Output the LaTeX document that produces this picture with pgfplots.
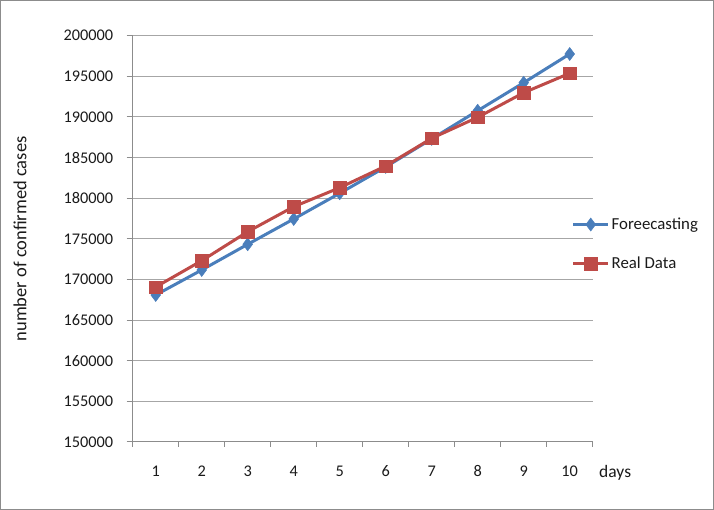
\documentclass[border=0pt]{standalone}
\usepackage{fontspec}
\setmainfont{Carlito}
\usepackage{pgfplots}
\pgfplotsset{compat=1.18}
\definecolor{fc}{HTML}{4A7EBB}
\definecolor{rd}{HTML}{BE4B48}
\definecolor{axc}{HTML}{8C8C8C}
\definecolor{grd}{HTML}{A6A6A6}
\definecolor{txt}{HTML}{1A1A1A}
\pgfplotsset{
  mylegend/.style={legend image code/.code={
    \draw[##1, mark=none] (0pt,0pt) -- (35pt,0pt);
    \draw[##1, line width=0.5pt] plot coordinates {(17.5pt,0pt)};
  }}
}
\begin{document}
\begin{tikzpicture}[x=1pt,y=1pt]
\draw[axc, line width=1.2pt] (0.6,0.6) rectangle (713.4,509.4);
\begin{axis}[
  at={(132.7pt,68pt)}, anchor=south west,
  scale only axis, width=460pt, height=406.3pt,
  xmin=0.5, xmax=10.5, ymin=150000, ymax=200000,
  xtick={1,...,10},
  minor xtick={0.5,1.5,...,10.5},
  ytick={150000,155000,...,200000},
  scaled y ticks=false,
  major x tick style={draw=none},
  axis x line*=bottom, axis y line*=left,
  axis line style={axc, line width=1pt},
  tick align=outside,
  major tick length=6pt, minor tick length=5pt,
  every tick/.style={axc, line width=1pt},
  ymajorgrids, grid style={grd, line width=1pt},
  /pgf/number format/assume math mode=true,
  /pgf/number format/1000 sep={},
  /pgf/number format/fixed,
  tick label style={font=\fontsize{16.3}{19}\selectfont, text=txt},
  yticklabel style={anchor=east, xshift=-10pt},
  xticklabel style={anchor=center, yshift=-23pt},
  xlabel={days},
  xlabel style={at={(rel axis cs:1,0)}, anchor=west, xshift=3pt, yshift=-31pt, font=\fontsize{17.5}{20}\selectfont, text=txt},
  ylabel={number of confirmed cases},
  ylabel style={at={(axis description cs:-0.245,0.5)}, anchor=center, font=\fontsize{18.5}{20}\selectfont, text=txt},
  legend style={at={(rel axis cs:0.954,0.487)}, anchor=west, draw=none, fill=none,
    font=\fontsize{16.8}{19}\selectfont, text=txt, row sep=22pt, inner sep=0pt,
    nodes={inner sep=2pt}},
  legend cell align=left,
  clip=false,
]
\addplot[fc, line width=3pt, mark=diamond*, mark size=6.5pt, mark options={line width=0.5pt, fill=fc}, mylegend]
coordinates {(1,168090) (2,171166) (3,174329) (4,177442) (5,180605) (6,183850) (7,187300) (8,190770) (9,194216) (10,197747)};
\addlegendentry{Foreecasting}
\addplot[rd, line width=3pt, mark=square*, mark size=6.2pt, mark options={line width=0.5pt, fill=rd}, mylegend]
coordinates {(1,169074) (2,172310) (3,175880) (4,178956) (5,181294) (6,183965) (7,187374) (8,189958) (9,192985) (10,195373)};
\addlegendentry{Real Data}
\end{axis}
\end{tikzpicture}
\end{document}
